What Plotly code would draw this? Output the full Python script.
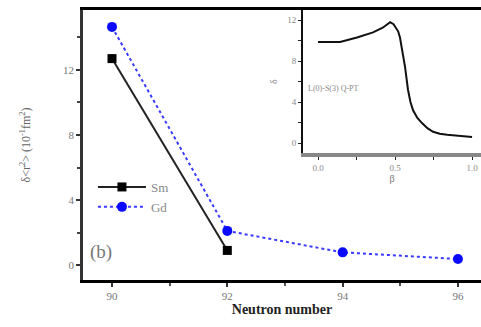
import plotly.graph_objects as go

# Main panel: isotopic shift vs neutron number
neutrons_sm = [90, 92]
shift_sm = [12.7, 0.9]
neutrons_gd = [90, 92, 94, 96]
shift_gd = [14.65, 2.1, 0.78, 0.37]

# Inset curve
beta = [0.0, 0.143, 0.253, 0.357, 0.42, 0.468, 0.49, 0.506, 0.52, 0.532, 0.55, 0.565,
        0.584, 0.60, 0.617, 0.645, 0.675, 0.71, 0.747, 0.79, 0.838, 0.92, 1.0]
nu = [9.85, 9.85, 10.3, 10.8, 11.25, 11.8, 11.6, 11.2, 10.9, 10.3, 8.8, 7.4,
      5.2, 4.0, 3.2, 2.45, 1.95, 1.45, 1.1, 0.9, 0.8, 0.68, 0.6]

serif = "Liberation Serif"
fig = go.Figure()

fig.add_trace(go.Scatter(
    x=neutrons_sm, y=shift_sm, name="Sm", mode="lines+markers",
    line=dict(color="#222222", width=2),
    marker=dict(symbol="square", size=9, color="black"),
))
fig.add_trace(go.Scatter(
    x=neutrons_gd, y=shift_gd, name="Gd", mode="lines+markers",
    line=dict(color="#3a3aff", width=2, dash="dot"),
    marker=dict(symbol="circle", size=10, color="#0a0aff"),
))
fig.add_trace(go.Scatter(
    x=beta, y=nu, mode="lines", showlegend=False,
    line=dict(color="#111111", width=2),
    xaxis="x2", yaxis="y2",
))

fig.update_layout(
    width=481, height=327,
    margin=dict(l=83, r=0, t=10, b=47),
    plot_bgcolor="white", paper_bgcolor="white",
    font=dict(family=serif, color="#777777", size=11),
    showlegend=True,
    legend=dict(x=0.025, y=0.40, xanchor="left", yanchor="top",
                bgcolor="rgba(0,0,0,0)", font=dict(size=13, color="#888888"),
                tracegroupgap=2, itemwidth=48),
    xaxis=dict(
        domain=[0, 1], range=[89.497, 96.40],
        tickvals=[90, 92, 94, 96], ticks="outside", ticklen=4, tickwidth=2,
        tickcolor="#333", showline=True, linecolor="black", linewidth=2.5,
        mirror=True, showgrid=False, zeroline=False,
        minor=dict(tickvals=[91, 93, 95], ticks="outside", ticklen=3, tickcolor="#555"),
        title=dict(text="<b>Neutron number</b>", font=dict(size=14, color="#222222"), standoff=4),
    ),
    yaxis=dict(
        domain=[0, 1], range=[-0.92, 15.69],
        tickvals=[0, 4, 8, 12], ticks="outside", ticklen=4, tickwidth=2,
        tickcolor="#333", showline=True, linecolor="#333333", linewidth=2.5,
        showgrid=False, zeroline=False,
        minor=dict(tickvals=[2, 6, 10, 14], ticks="outside", ticklen=3, tickcolor="#444"),
        title=dict(text="δ<r<sup>2</sup>> (10<sup>-1</sup>fm<sup>2</sup>)", font=dict(size=12, color="#666666"), standoff=30),
    ),
    xaxis2=dict(
        domain=[0.553, 1.0], range=[-0.097, 1.058], anchor="y2",
        tickvals=[0.0, 0.5, 1.0], ticktext=["0.0", "0.5", "1.0"],
        ticks="outside", ticklen=3, tickcolor="#222", showline=True,
        linecolor="#888888", linewidth=4, showgrid=False, zeroline=False,
        minor=dict(tickvals=[0.25, 0.75], ticks="outside", ticklen=3, tickcolor="#222"),
        tickfont=dict(size=9, color="#888888"),
        title=dict(text="β", font=dict(size=10, color="#777777"), standoff=2),
    ),
    yaxis2=dict(
        domain=[0.47, 1.0], range=[-0.98, 12.98], anchor="x2",
        tickvals=[0, 4, 8, 12], ticks="outside", ticklen=3, tickcolor="#222",
        showline=True, linecolor="#111111", linewidth=2, showgrid=False, zeroline=False,
        minor=dict(tickvals=[2, 6, 10], ticks="outside", ticklen=3, tickcolor="#222"),
        tickfont=dict(size=9, color="#888888"),
        title=dict(text="δ", font=dict(size=10, color="#888888"), standoff=8),
    ),
    annotations=[
        dict(text="(b)", x=0.012, y=0.055, xref="paper", yref="paper",
             xanchor="left", yanchor="bottom", showarrow=False,
             font=dict(family=serif, size=19, color="#777777")),
        dict(text="L(0)-S(3) Q-PT", x=0.56, y=0.71, xref="paper", yref="paper",
             xanchor="left", yanchor="middle", showarrow=False,
             font=dict(family=serif, size=8, color="#888888")),
    ],
)

fig.write_html("out.html")
